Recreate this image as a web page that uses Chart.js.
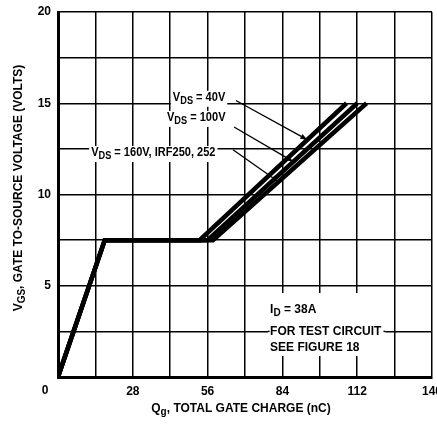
<!DOCTYPE html>
<html>
<head>
<meta charset="utf-8">
<script src="https://cdn.jsdelivr.net/npm/chart.js@4/dist/chart.umd.min.js"></script>
<style>
  html, body { margin: 0; padding: 0; background: #fff; }
  #wrap { width: 437px; height: 426px; position: relative; }
</style>
</head>
<body>
<div id="wrap"><canvas id="c"></canvas></div>
<script>
// Gate charge curves, one per drain-source voltage (nC vs volts)
const charge40  = [0, 17.5, 53, 108];
const volts40   = [0, 7.5, 7.5, 15];
const charge100 = [0, 17.5, 56, 112];
const volts100  = [0, 7.5, 7.5, 15];
const charge160 = [0, 17.5, 58, 115.5];
const volts160  = [0, 7.5, 7.5, 15];

const xTickLabels = [28, 56, 84, 112, 140];
const yTickLabels = [5, 10, 15, 20];

const FONT = '"Liberation Sans", Arial, sans-serif';

function pts(xs, ys) { return xs.map((x, i) => ({ x: x, y: ys[i] })); }

// charge on a curve at a given voltage (along its rising segment)
function chargeAt(xs, ys, v) {
  for (let i = xs.length - 1; i > 0; i--) {
    if (ys[i] >= v && ys[i - 1] <= v && ys[i] !== ys[i - 1]) {
      return xs[i - 1] + (v - ys[i - 1]) / (ys[i] - ys[i - 1]) * (xs[i] - xs[i - 1]);
    }
  }
  return xs[0];
}

// curve labels: text anchor (left, middle) and arrow from label to curve
const curveLabels = [
  { main: 'V', sub: 'DS', rest: ' = 40V', q: 43.0, v: 15.3, from: [66.6, 15.15], toV: 13.0, xs: charge40, ys: volts40 },
  { main: 'V', sub: 'DS', rest: ' = 100V', q: 40.8, v: 14.2, from: [65.9, 13.7], toV: 11.8, xs: charge100, ys: volts100 },
  { main: 'V', sub: 'DS', rest: ' = 160V, IRF250, 252', q: 12.4, v: 12.27, from: [65.5, 12.45], toV: 10.7, xs: charge160, ys: volts160 }
];

const LABEL_SX = 0.92;

function drawSubText(ctx, x, y, main, sub, rest, size, sx) {
  sx = sx || 1;
  ctx.save();
  ctx.translate(x, y);
  ctx.scale(sx, 1);
  ctx.font = 'bold ' + size + 'px ' + FONT;
  ctx.textBaseline = 'middle';
  ctx.textAlign = 'left';
  ctx.fillText(main, 0, 0);
  let w = ctx.measureText(main).width;
  ctx.font = 'bold ' + Math.round(size * 0.8) + 'px ' + FONT;
  ctx.fillText(sub, w, size * 0.3);
  w += ctx.measureText(sub).width;
  ctx.font = 'bold ' + size + 'px ' + FONT;
  ctx.fillText(rest, w, 0);
  w += ctx.measureText(rest).width;
  ctx.restore();
  return w * sx;
}

function measureSubText(ctx, main, sub, rest, size, sx) {
  sx = sx || 1;
  ctx.save();
  ctx.font = 'bold ' + size + 'px ' + FONT;
  let w = ctx.measureText(main).width + ctx.measureText(rest).width;
  ctx.font = 'bold ' + Math.round(size * 0.8) + 'px ' + FONT;
  w += ctx.measureText(sub).width;
  ctx.restore();
  return w * sx;
}

function arrow(ctx, x1, y1, x2, y2) {
  ctx.save();
  ctx.strokeStyle = '#000';
  ctx.fillStyle = '#000';
  ctx.lineWidth = 1.3;
  const a = Math.atan2(y2 - y1, x2 - x1);
  const hl = 7, hw = 2.6;
  ctx.beginPath();
  ctx.moveTo(x1, y1);
  ctx.lineTo(x2 - hl * Math.cos(a), y2 - hl * Math.sin(a));
  ctx.stroke();
  ctx.beginPath();
  ctx.moveTo(x2, y2);
  ctx.lineTo(x2 - hl * Math.cos(a) + hw * Math.sin(a), y2 - hl * Math.sin(a) - hw * Math.cos(a));
  ctx.lineTo(x2 - hl * Math.cos(a) - hw * Math.sin(a), y2 - hl * Math.sin(a) + hw * Math.cos(a));
  ctx.closePath();
  ctx.fill();
  ctx.restore();
}

const notesPlugin = {
  id: 'notes',
  beforeDatasetsDraw(chart) {
    const ctx = chart.ctx, xs = chart.scales.x, ys = chart.scales.y;
    ctx.save();
    ctx.fillStyle = '#fff';
    curveLabels.forEach(l => {
      const x = xs.getPixelForValue(l.q), y = ys.getPixelForValue(l.v);
      const w = measureSubText(ctx, l.main, l.sub, l.rest, 12, LABEL_SX);
      ctx.fillRect(x - 2, y - 7, w + 4, 16);
    });
    // test-condition block
    const bx = xs.getPixelForValue(78.6), by = ys.getPixelForValue(4.6);
    const bx2 = xs.getPixelForValue(122.5), by2 = ys.getPixelForValue(1.15);
    ctx.fillRect(bx, by, bx2 - bx, by2 - by);
    ctx.restore();
    // grid line running up to the block text
    ctx.save();
    ctx.strokeStyle = '#000';
    ctx.lineWidth = 1.5;
    const gy = ys.getPixelForValue(2.5);
    ctx.beginPath();
    ctx.moveTo(bx, gy); ctx.lineTo(xs.getPixelForValue(79.2), gy);
    ctx.stroke();
    ctx.restore();
  },
  afterDatasetsDraw(chart) {
    const ctx = chart.ctx, xs = chart.scales.x, ys = chart.scales.y;
    ctx.save();
    ctx.fillStyle = '#000';
    curveLabels.forEach(l => {
      const x = xs.getPixelForValue(l.q), y = ys.getPixelForValue(l.v);
      drawSubText(ctx, x, y, l.main, l.sub, l.rest, 12, LABEL_SX);
      const tq = chargeAt(l.xs, l.ys, l.toV);
      arrow(ctx, xs.getPixelForValue(l.from[0]), ys.getPixelForValue(l.from[1]),
            xs.getPixelForValue(tq), ys.getPixelForValue(l.toV));
    });
    const tx = xs.getPixelForValue(79.4);
    ctx.fillStyle = '#000';
    drawSubText(ctx, tx, ys.getPixelForValue(3.67), 'I', 'D', ' = 38A', 12);
    ctx.font = 'bold 12px ' + FONT;
    ctx.textBaseline = 'middle';
    ctx.textAlign = 'left';
    ctx.fillText('FOR TEST CIRCUIT', tx, ys.getPixelForValue(2.47));
    ctx.fillText('SEE FIGURE 18', tx, ys.getPixelForValue(1.62));
    const ex = ctx.measureText('FOR TEST CIRCUIT').width;
    // grid line resumes after the text
    ctx.strokeStyle = '#000';
    ctx.lineWidth = 1.5;
    const gy = ys.getPixelForValue(2.5);
    ctx.beginPath();
    ctx.moveTo(tx + ex + 2, gy); ctx.lineTo(xs.getPixelForValue(122.5), gy);
    ctx.stroke();
    ctx.restore();
  },
  afterDraw(chart) {
    const ctx = chart.ctx, area = chart.chartArea;
    ctx.save();
    ctx.fillStyle = '#000';
    // shared origin label
    ctx.font = 'bold 12px ' + FONT;
    ctx.textAlign = 'center';
    ctx.textBaseline = 'middle';
    ctx.fillText('0', area.left - 13, chart.scales.x.top + 14);
    // x axis title
    const xt = { main: 'Q', sub: 'g', rest: ', TOTAL GATE CHARGE (nC)' };
    const wx = measureSubText(ctx, xt.main, xt.sub, xt.rest, 12);
    drawSubText(ctx, 241 - wx / 2, 409, xt.main, xt.sub, xt.rest, 12);
    // y axis title (rotated)
    const yt = { main: 'V', sub: 'GS', rest: ', GATE TO-SOURCE VOLTAGE (VOLTS)' };
    const wy = measureSubText(ctx, yt.main, yt.sub, yt.rest, 12);
    ctx.translate(19, 188);
    ctx.rotate(-Math.PI / 2);
    drawSubText(ctx, -wy / 2, 0, yt.main, yt.sub, yt.rest, 12);
    ctx.restore();
  }
};

function lineSet(label, xs, ys) {
  return {
    label: label,
    data: pts(xs, ys),
    borderColor: '#000',
    borderWidth: 4.5,
    pointRadius: 0,
    fill: false,
    tension: 0,
    borderCapStyle: 'butt',
    borderJoinStyle: 'miter'
  };
}

new Chart(document.getElementById('c'), {
  type: 'line',
  data: {
    datasets: [
      lineSet('VDS = 40V', charge40, volts40),
      lineSet('VDS = 100V', charge100, volts100),
      lineSet('VDS = 160V', charge160, volts160)
    ]
  },
  options: {
    responsive: true,
    maintainAspectRatio: false,
    animation: false,
    layout: { padding: { top: 12, right: 5, left: 0, bottom: 0 } },
    plugins: { legend: { display: false }, tooltip: { enabled: false } },
    scales: {
      x: {
        type: 'linear', min: 0, max: 140,
        grid: { color: '#000', lineWidth: 1.5, drawTicks: false },
        border: { color: '#000', width: 3 },
        ticks: {
          stepSize: 14, autoSkip: false, maxRotation: 0, padding: 7,
          color: '#000', font: { family: FONT, size: 12, weight: 'bold' },
          callback: v => xTickLabels.includes(v) ? String(v) : ''
        },
        afterFit(s) { s.height = 49; s.paddingLeft = 0; s.paddingRight = 0; }
      },
      y: {
        type: 'linear', min: 0, max: 20,
        grid: { color: '#000', lineWidth: 1.5, drawTicks: false },
        border: { color: '#000', width: 3 },
        ticks: {
          stepSize: 2.5, autoSkip: false, padding: 7,
          color: '#000', font: { family: FONT, size: 12, weight: 'bold' },
          callback: v => yTickLabels.includes(v) ? String(v) : ''
        },
        afterFit(s) { s.width = 58; s.paddingTop = 0; s.paddingBottom = 0; }
      }
    }
  },
  plugins: [notesPlugin]
});
</script>
</body>
</html>
